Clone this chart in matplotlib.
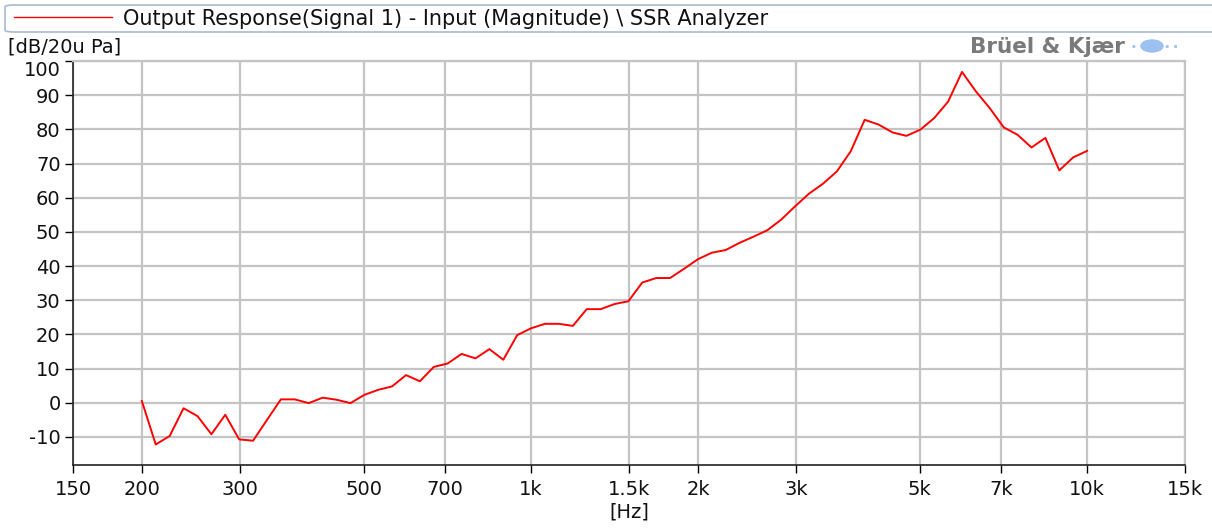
import matplotlib
matplotlib.use("Agg")
import matplotlib.pyplot as plt
from matplotlib.patches import FancyBboxPatch, Ellipse
from matplotlib.lines import Line2D

# 1/12-octave centre frequencies (Hz)
freqs = [199.5, 211.3, 223.9, 237.1, 251.2, 266.1, 281.8, 298.5, 316.2, 335.0,
         354.8, 375.8, 398.1, 421.7, 446.7, 473.2, 501.2, 530.9, 562.3, 595.7,
         631.0, 668.3, 707.9, 749.9, 794.3, 841.4, 891.3, 944.1, 1000, 1059,
         1122, 1189, 1259, 1334, 1413, 1496, 1585, 1679, 1778, 1884,
         1995, 2113, 2239, 2371, 2512, 2661, 2818, 2985, 3162, 3350,
         3548, 3758, 3981, 4217, 4467, 4732, 5012, 5309, 5623, 5957,
         6310, 6683, 7079, 7499, 7943, 8414, 8913, 9441, 10000]
# magnitude (dB re 20 uPa)
level = [0.5, -12.2, -9.7, -1.6, -3.9, -9.2, -3.5, -10.7, -11.1, -5.0,
         1.0, 1.0, -0.1, 1.5, 0.9, -0.1, 2.3, 3.8, 4.8, 8.1,
         6.3, 10.5, 11.5, 14.3, 13.0, 15.7, 12.6, 19.8, 21.8, 23.1,
         23.1, 22.5, 27.4, 27.4, 28.9, 29.7, 35.2, 36.5, 36.5, 39.2,
         42.0, 43.9, 44.7, 46.8, 48.6, 50.5, 53.6, 57.5, 61.2, 64.1,
         67.7, 73.6, 82.8, 81.4, 79.1, 78.1, 79.9, 83.3, 88.1, 96.8,
         91.1, 86.2, 80.6, 78.4, 74.7, 77.5, 68.0, 71.8, 73.7]

xticks = [150, 200, 300, 500, 700, 1000, 1500, 2000, 3000, 5000, 7000, 10000, 15000]
xticklabels = ["150", "200", "300", "500", "700", "1k", "1.5k", "2k", "3k", "5k", "7k", "10k", "15k"]
yticks = [-10, 0, 10, 20, 30, 40, 50, 60, 70, 80, 90, 100]

W, H = 1212, 528
plt.rcParams['font.family'] = ['DejaVu Sans']

fig = plt.figure(figsize=(W / 100, H / 100), dpi=100)
ax = fig.add_axes([73 / W, 1 - 465 / H, (1185 - 73) / W, (465 - 61) / H])

grid_c = "#c4c4c4"
ax.plot(freqs, level, color="#ff0000", lw=1.4, zorder=3)

ax.set_xscale("log")
ax.set_xlim(150, 15000)
ax.set_ylim(-18.2, 100)
ax.set_xticks(xticks)
ax.set_xticklabels(xticklabels)
ax.minorticks_off()
ax.set_yticks(yticks)
ax.set_yticklabels([str(v) for v in yticks])
ax.grid(True, color=grid_c, lw=1.6)
ax.tick_params(axis="both", direction="out", length=6, width=1, color="black",
               labelsize=14, labelcolor="#111111")
ax.tick_params(axis="x", pad=5)
ax.tick_params(axis="y", pad=3)
# top label sits just below the axis top, as in the analyzer output
ax.get_yticklabels()[-1].set_verticalalignment("top")
for s in ("top", "right"):
    ax.spines[s].set_color(grid_c)
    ax.spines[s].set_linewidth(1.6)
for s in ("left", "bottom"):
    ax.spines[s].set_color("#222222")
    ax.spines[s].set_linewidth(1.2)
ax.set_xlabel("[Hz]", fontsize=14, labelpad=2, color="#111111")

# y unit label
fig.text(8 / W, 1 - 47 / H, "[dB/20u Pa]", fontsize=14, va="center", ha="left", color="#111111")

# title / legend box
box = FancyBboxPatch((5 / W, 1 - 32 / H), 1.05, 27 / H,
                     boxstyle="round,pad=0,rounding_size=0.008",
                     transform=fig.transFigure, fill=False, ec="#a8bad4", lw=1.2,
                     mutation_aspect=H / W)
fig.add_artist(box)
fig.add_artist(Line2D([14 / W, 112 / W], [1 - 17 / H, 1 - 17 / H],
                      transform=fig.transFigure, color="#ff0000", lw=1.0))
fig.text(123 / W, 1 - 19 / H, "Output Response(Signal 1) - Input (Magnitude) \\ SSR Analyzer",
         fontsize=15, va="center", ha="left", color="#111111")

# logo
fig.text(1125 / W, 1 - 47 / H, "Brüel & Kjær", fontsize=15.5, fontweight="bold",
         va="center", ha="right", color="#7a7a7a")
fig.add_artist(Ellipse((1152 / W, 1 - 46 / H), 22 / W, 12 / H,
                       transform=fig.transFigure, color="#9cc0f0"))
fig.add_artist(Line2D([1132 / W, 1182 / W], [1 - 46 / H, 1 - 46 / H],
                      transform=fig.transFigure, color="#9cc0f0", lw=2, ls=(0, (1, 2))))

fig.savefig("out.png", dpi=100)
